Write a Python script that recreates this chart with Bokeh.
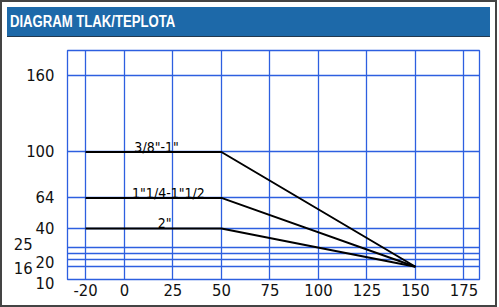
from bokeh.plotting import figure
from bokeh.models import FixedTicker, Div, Range1d, AllLabels
from bokeh.layouts import column
from bokeh.embed import file_html
from bokeh.resources import INLINE
from bokeh.core.properties import value

# ---- data ----
temperature = [-20, 50, 150]
series_names = ['3/8"-1"', '1"1/4-1"1/2', '2"']
pressure_3_8_to_1 = [100, 100, 10]
pressure_1_1_4_to_1_1_2 = [64, 64, 10]
pressure_2 = [40, 40, 10]
x_ticks = [-20, 0, 25, 50, 75, 100, 125, 150, 175]
y_axis_ticks = [40, 64, 100, 160]
y_grid_values = [10, 16, 20, 25, 40, 64, 100, 160]
y_extra_ticks = [25, 20, 16, 10]
y_extra_labels = ["25", "20", "16", "10"]

FONT = "'DejaVu Sans Condensed', 'Liberation Sans', sans-serif"
GRID = "#2d5fe0"
HEADER = "#1d69a9"
Y_MIN, Y_MAX = 0, 179.6
PX_PER_UNIT = 229 / (Y_MAX - Y_MIN)

p = figure(width=483, height=263, output_backend="svg", toolbar_location=None,
           x_range=Range1d(-29.3, 183), y_range=Range1d(Y_MIN, Y_MAX),
           min_border_left=65, min_border_right=6, min_border_top=8, min_border_bottom=26)

p.background_fill_color = "white"
p.border_fill_color = "white"
p.outline_line_color = GRID
p.outline_line_width = 1.3

# staggered low-pressure labels: pixel shift of the tick anchor from its grid line,
# extra right indent, and a leading blank line for the one that sits below the frame
shift_px = [3, -9, -9, -5]
indent = ["\u2007\u2007\u2009", "", "\u2007\u2007\u2009", ""]
lead = ["", "", "", "\n"]
extra_tick_pos = [v + s / PX_PER_UNIT for v, s in zip(y_extra_ticks, shift_px)]

p.xaxis.ticker = FixedTicker(ticks=x_ticks)
p.xaxis.major_label_overrides = {t: str(t) for t in x_ticks}
p.yaxis.ticker = FixedTicker(ticks=y_axis_ticks + extra_tick_pos)
p.yaxis.major_label_overrides = {pos: ld + lab + ind for pos, lab, ind, ld in
                                 zip(extra_tick_pos, y_extra_labels, indent, lead)}
p.yaxis.major_label_policy = AllLabels()
p.xgrid.ticker = FixedTicker(ticks=x_ticks)
p.ygrid.ticker = FixedTicker(ticks=y_grid_values)
for g in (p.xgrid, p.ygrid):
    g.grid_line_color = GRID
    g.grid_line_width = 1.3
    g.grid_line_alpha = 1.0

for ax in (p.xaxis, p.yaxis):
    ax.axis_line_color = None
    ax.major_tick_line_color = None
    ax.minor_tick_line_color = None
    ax.major_tick_out = 0
    ax.major_tick_in = 0
    ax.minor_tick_out = 0
    ax.major_label_text_font = FONT
    ax.major_label_text_font_size = "16.5px"
    ax.major_label_text_color = "#111111"
p.xaxis.major_label_standoff = 4
p.yaxis.major_label_standoff = 13

for vals in (pressure_3_8_to_1, pressure_1_1_4_to_1_1_2, pressure_2):
    p.line(temperature, vals, line_color="black", line_width=2)

# series labels above the plateaus
label_x = [16.6, 22.7, 20.7]
plateaus = [pressure_3_8_to_1[0], pressure_1_1_4_to_1_1_2[0], pressure_2[0]]
p.text(x=label_x, y=plateaus, text=series_names, text_align="center",
       text_baseline="alphabetic", y_offset=-5, text_font=value(FONT),
       text_font_size="14px", text_color="black")

header = Div(text='<span style="display:inline-block;transform:scaleX(0.82);'
                  'transform-origin:left center;">DIAGRAM TLAK/TEPLOTA</span>',
             width=483, height=30,
             styles={"background-color": HEADER, "color": "white",
                     "font-family": "'Liberation Sans', Arial, sans-serif",
                     "font-weight": "bold", "font-size": "16px",
                     "line-height": "30px", "padding-left": "3px",
                     "border-bottom": "1px solid #22394f", "box-sizing": "border-box"})

layout = column(header, p, spacing=0, styles={"border": "2px solid #444444"})

open("out.html", "w").write(file_html(layout, INLINE))
